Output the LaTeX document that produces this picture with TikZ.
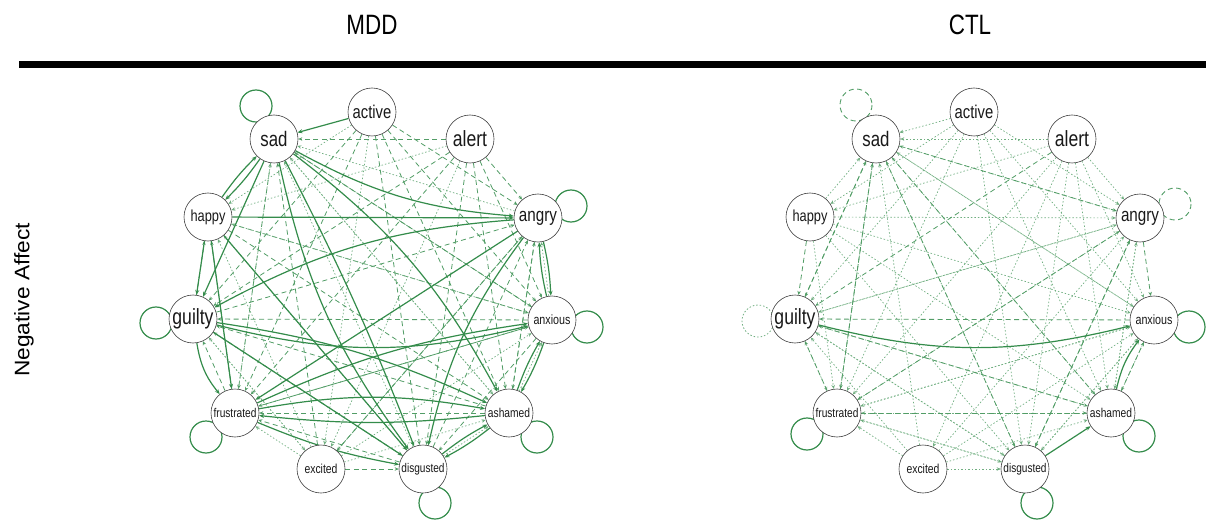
\documentclass[tikz,border=0pt]{standalone}
\usepackage{fontspec}
\setmainfont{Liberation Sans}[FakeStretch=0.8]
\newfontfamily\sidefont{Liberation Sans}[FakeStretch=1.08]
\usetikzlibrary{arrows.meta,backgrounds,calc}
\definecolor{eg}{RGB}{52,140,75}
\tikzset{
  nd/.style={circle,draw=black!75,line width=0.6pt,fill=white,minimum size=48pt,inner sep=0pt,text=black!90},
  solidE/.style={draw=eg,line width=1.2pt,-{Stealth[length=5pt,width=4pt]}},
  dashE/.style={draw=eg!85,line width=0.8pt,dash pattern=on 5pt off 3.5pt,-{Stealth[length=4pt,width=3.5pt]}},
  dotE/.style={draw=eg!70,line width=0.7pt,dash pattern=on 1.5pt off 2pt,-{Stealth[length=4pt,width=3.5pt]}},
  loopS/.style={draw=eg,line width=1.2pt},
  loopD/.style={draw=eg!85,line width=0.9pt,dash pattern=on 5pt off 3.5pt},
  loopT/.style={draw=eg!70,line width=0.8pt,dash pattern=on 1.5pt off 2pt},
}
\begin{document}
\begin{tikzpicture}[x=1pt,y=-1pt]
\useasboundingbox (0,0) rectangle (1206,521);

% column headings and rule
\node[font=\fontsize{28}{30}\selectfont] (hmdd) at (372,25) {MDD};
\node[font=\fontsize{28}{30}\selectfont] (hctl) at (970,25) {CTL};
\fill[black] (19,61) rectangle (1206,68);
\node[rotate=90,font=\sidefont\fontsize{21}{23}\selectfont] (rowlab) at (24,300) {Negative Affect};

% nodes of both networks (prefix m = MDD, c = CTL)
\foreach \p/\dx in {m/0,c/602}{
  \foreach \n/\x/\y/\fs in {sad/274/139/21, active/372/112/18.5, alert/470/139/22,
      happy/208/217/16, angry/538/218/19, guilty/193/319/22, anxious/552/320/13.4,
      frustrated/235/413/12.7, ashamed/509/413/12.8, excited/321/469/13, disgusted/423/469/12.6}{
    \node[nd,font=\fontsize{\fs}{\fs}\selectfont] (\p-\n) at (\x+\dx,\y) {\n};
  }
}

\begin{pgfonlayer}{background}
% ---------- MDD network ----------
\foreach \a/\b in {alert/sad, active/angry, alert/angry, sad/anxious, active/anxious,
    alert/anxious, alert/ashamed, active/ashamed, happy/anxious, guilty/angry, anxious/guilty,
    frustrated/anxious, excited/disgusted, excited/angry, excited/sad, alert/guilty,
    alert/frustrated, active/frustrated, active/guilty, guilty/happy, frustrated/happy,
    disgusted/frustrated, ashamed/frustrated, anxious/disgusted, angry/ashamed,
    disgusted/guilty, happy/ashamed, ashamed/guilty, alert/disgusted, active/disgusted,
    anxious/frustrated, angry/excited, sad/frustrated, anxious/sad, ashamed/angry,
    disgusted/angry, frustrated/guilty}
  \draw[dashE] (m-\a) -- (m-\b);
\foreach \a/\b in {alert/happy, active/happy, excited/frustrated, excited/guilty, excited/happy,
    excited/anxious, excited/ashamed, alert/excited, active/excited, anxious/happy,
    disgusted/sad, ashamed/sad, frustrated/sad, disgusted/happy, angry/sad, anxious/angry,
    ashamed/anxious, disgusted/ashamed, guilty/excited, sad/ashamed}
  \draw[dotE] (m-\a) -- (m-\b);
\foreach \a/\b/\bend in {active/sad/0, sad/angry/-12, happy/angry/0, angry/guilty/-12,
    sad/guilty/0, sad/happy/5, happy/sad/5, sad/disgusted/-12, sad/ashamed/12,
    sad/disgusted/3, happy/disgusted/0, happy/frustrated/0, happy/guilty/0,
    guilty/anxious/-14, guilty/ashamed/8, angry/frustrated/0, angry/disgusted/-12,
    frustrated/ashamed/10, ashamed/frustrated/6, guilty/frustrated/-15, guilty/disgusted/0,
    frustrated/anxious/8, ashamed/disgusted/5, disgusted/ashamed/5, anxious/ashamed/5,
    ashamed/anxious/5, angry/anxious/5, anxious/angry/5, frustrated/disgusted/-6}
  \draw[solidE] (m-\a) to[bend left=\bend] (m-\b);
% self-loops
\foreach \n/\ox/\oy in {sad/-18/-33, angry/33/-12, guilty/-37/4, anxious/35/7,
    frustrated/-29/24, ashamed/28/24, disgusted/12/34}
  \draw[loopS] ($(m-\n)+(\ox,\oy)$) circle[radius=16];

% ---------- CTL network ----------
\foreach \a/\b in {active/sad, alert/sad, happy/sad, angry/sad, anxious/sad, ashamed/sad,
    disgusted/sad, excited/sad, active/angry, alert/angry, happy/angry, guilty/angry,
    frustrated/angry, excited/angry, ashamed/angry, active/anxious, alert/anxious, happy/anxious,
    sad/anxious, frustrated/anxious, excited/anxious, disgusted/anxious,
    active/guilty, angry/guilty, ashamed/guilty, disgusted/guilty, excited/guilty,
    active/frustrated, alert/frustrated, happy/frustrated, guilty/frustrated, anxious/frustrated,
    ashamed/frustrated, disgusted/frustrated, excited/frustrated, active/ashamed, alert/ashamed,
    happy/ashamed, angry/ashamed, anxious/ashamed, excited/ashamed, active/disgusted,
    alert/disgusted, happy/disgusted, guilty/disgusted, anxious/disgusted, frustrated/disgusted,
    excited/disgusted, alert/happy, active/happy, alert/excited}
  \draw[dotE] (c-\a) -- (c-\b);
\foreach \a/\b in {sad/guilty, sad/frustrated, angry/frustrated, alert/guilty, anxious/guilty,
    happy/guilty, sad/disgusted, angry/anxious, angry/disgusted, frustrated/ashamed,
    guilty/ashamed, sad/ashamed, sad/angry, frustrated/guilty, disgusted/angry, frustrated/sad,
    guilty/sad, ashamed/anxious}
  \draw[dashE] (c-\a) -- (c-\b);
\foreach \a/\b/\bend in {guilty/anxious/-14, disgusted/ashamed/0, ashamed/anxious/12}
  \draw[solidE] (c-\a) to[bend left=\bend] (c-\b);
% self-loops
\draw[loopD] ($(c-sad)+(-20,-34)$) circle[radius=16];
\draw[loopD] ($(c-angry)+(35,-14)$) circle[radius=16];
\draw[loopT] ($(c-guilty)+(-37,2)$) circle[radius=16];
\foreach \n/\ox/\oy in {anxious/35/7, frustrated/-30/21, ashamed/28/23, disgusted/12/34}
  \draw[loopS] ($(c-\n)+(\ox,\oy)$) circle[radius=16];
\end{pgfonlayer}
\end{tikzpicture}
\end{document}
